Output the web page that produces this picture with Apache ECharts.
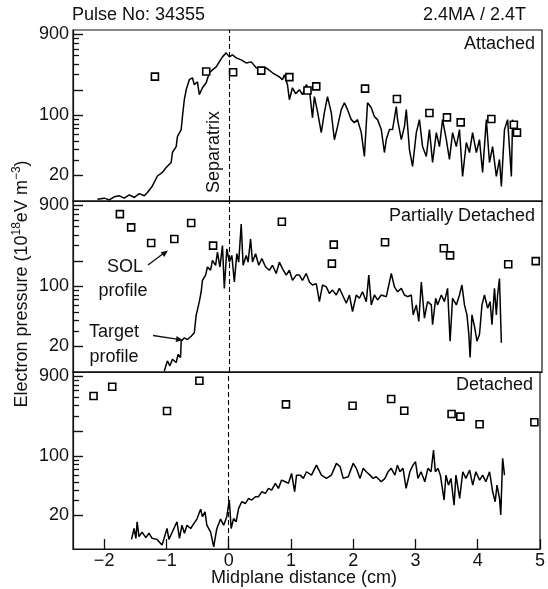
<!DOCTYPE html>
<html><head><meta charset="utf-8">
<script src="https://cdn.jsdelivr.net/npm/echarts@6/dist/echarts.min.js"></script>
<style>html,body{margin:0;padding:0;background:#fff}#c{width:548px;height:589px}</style>
</head><body><div id="c"></div>
<script>
const xTicks = [-2, -1, 0, 1, 2, 3, 4, 5];
const yLabelTicks = [20, 100, 900];
const yMajorTicks = [20, 100, 200, 900];
const yMinorTicks = [30, 40, 50, 60, 70, 80, 90, 300, 400, 500, 600, 700, 800];
const panelNames = ['Attached', 'Partially Detached', 'Detached'];
const panelMin = [10, 10, 8];
const panelMax = [1000, 1000, 1000];

// SOL profile (squares)
const attachedSOL = [[-1.19,285],[-0.37,327],[0.06,321],[0.51,335],[0.96,281],[1.25,196],[1.39,219],[2.17,206],[2.68,156],[3.2,107],[3.48,95],[3.7,83],[4.19,91],[4.55,78],[4.6,63]];
const partialSOL = [[-1.75,702],[-1.57,491],[-1.25,323],[-0.88,360],[-0.61,552],[-0.26,301],[0.84,572],[1.64,185],[1.67,309],[2.49,329],[3.43,280],[3.53,231],[4.46,182],[4.9,198]];
const detachedSOL = [[-2.17,520],[-1.87,670],[-0.99,345],[-0.47,789],[0.92,414],[1.99,399],[2.61,478],[2.82,348],[3.58,318],[3.72,296],[4.03,240],[4.91,254]];

// Target profile (line)
const attachedTarget = [[-2.11,10.5],[-2.0,10.8],[-1.92,10.3],[-1.84,11.2],[-1.76,11.5],[-1.68,10.8],[-1.6,11.8],[-1.52,11.0],[-1.44,12.2],[-1.36,11.5],[-1.31,12.6],[-1.23,15.0],[-1.15,19.6],[-1.07,21.6],[-1.01,24.7],[-0.93,28.2],[-0.91,36.9],[-0.85,43.3],[-0.83,56.7],[-0.77,68.4],[-0.75,97],[-0.72,153],[-0.69,200],[-0.64,262],[-0.59,276],[-0.56,229],[-0.51,248],[-0.48,175],[-0.43,211],[-0.37,242],[-0.32,316],[-0.27,342],[-0.21,370],[-0.16,424],[-0.11,485],[-0.05,540],[0,485],[0.05,512],[0.11,472],[0.19,447],[0.27,412],[0.35,424],[0.43,361],[0.51,342],[0.59,361],[0.69,316],[0.8,283],[0.85,262],[0.88,300],[0.93,229],[0.96,153],[1.01,211],[1.06,180],[1.12,200],[1.17,175],[1.23,229],[1.28,200],[1.33,94],[1.36,166],[1.41,111],[1.47,63],[1.52,108],[1.57,166],[1.63,108],[1.68,52],[1.73,74],[1.79,117],[1.84,141],[1.89,117],[1.95,89.5],[2.0,82.6],[2.05,89.5],[2.11,63],[2.16,33.2],[2.21,141],[2.27,123],[2.32,97],[2.37,89.5],[2.43,68.4],[2.48,36.9],[2.51,52.3],[2.56,68.4],[2.61,68.4],[2.67,127],[2.69,89.5],[2.75,52.3],[2.8,74.2],[2.83,117],[2.88,40],[2.93,25.4],[2.99,63],[3.04,89.5],[3.09,43.3],[3.15,33.2],[3.2,68.4],[3.25,28.2],[3.31,63],[3.36,43.3],[3.41,89.5],[3.47,52.3],[3.52,30.6],[3.57,63],[3.63,43.3],[3.68,68.4],[3.73,19.4],[3.79,48.3],[3.84,36.9],[3.89,63],[3.95,36.9],[4.0,52.3],[4.05,21.6],[4.11,89.5],[4.16,28.2],[4.21,43.3],[4.27,19.4],[4.32,30.6],[4.35,14.8],[4.4,68.4],[4.45,89.5],[4.51,19.4],[4.53,89.5]];
const partialTarget = [[-1.04,10.3],[-0.99,13.5],[-0.95,11.8],[-0.91,14.1],[-0.85,12.9],[-0.82,16.1],[-0.78,14.8],[-0.77,22.9],[-0.72,25.1],[-0.67,24.0],[-0.61,26.2],[-0.56,28.7],[-0.53,46.6],[-0.51,53.3],[-0.48,66.5],[-0.45,86.8],[-0.43,118],[-0.38,136],[-0.35,169],[-0.3,155],[-0.27,202],[-0.22,177],[-0.19,252],[-0.15,169],[-0.11,301],[-0.08,95],[-0.04,276],[0,193],[0.04,231],[0.08,113],[0.12,242],[0.15,193],[0.19,538],[0.22,177],[0.27,231],[0.3,193],[0.34,360],[0.37,193],[0.42,242],[0.47,177],[0.52,212],[0.58,169],[0.64,155],[0.69,177],[0.75,142],[0.8,193],[0.85,162],[0.91,136],[0.96,155],[1.01,118],[1.07,136],[1.12,136],[1.17,118],[1.23,142],[1.28,113],[1.33,104],[1.39,108],[1.44,66.5],[1.49,104],[1.55,99],[1.6,83],[1.65,90.8],[1.71,79.5],[1.76,95],[1.81,79.5],[1.87,63.8],[1.92,79.5],[1.97,51],[2.03,79.5],[2.08,72.8],[2.13,86.8],[2.19,66.5],[2.23,136],[2.27,60.9],[2.32,79.5],[2.37,69.6],[2.43,79.5],[2.51,76],[2.59,142],[2.64,99],[2.69,86.8],[2.75,95],[2.8,79.5],[2.85,76],[2.91,79.5],[2.94,46.6],[2.99,60.9],[3.03,39],[3.07,113],[3.12,42.7],[3.17,66.5],[3.23,60.9],[3.25,35.7],[3.3,72.8],[3.33,60.9],[3.39,79.5],[3.44,66.5],[3.49,95],[3.53,22.9],[3.57,72.8],[3.63,60.9],[3.68,79.5],[3.72,104],[3.76,60.9],[3.8,46.6],[3.83,27.4],[3.85,14.8],[3.88,46.6],[3.92,34.2],[3.96,22.9],[4.0,27.4],[4.04,60.9],[4.08,79.5],[4.13,55.8],[4.17,66.5],[4.2,35.7],[4.24,95],[4.27,46.6],[4.29,79.5],[4.32,124],[4.35,22]];
const detachedTarget = [[-1.56,10.4],[-1.52,14],[-1.49,10.7],[-1.47,16.8],[-1.44,11.2],[-1.39,12.7],[-1.33,10.9],[-1.28,12.3],[-1.23,10.7],[-1.15,10.4],[-1.07,8.9],[-0.99,14],[-0.96,10.4],[-0.83,16.8],[-0.79,10.7],[-0.75,15.3],[-0.71,12.3],[-0.67,15.3],[-0.61,14],[-0.56,16],[-0.51,18.1],[-0.45,23.7],[-0.42,19.3],[-0.38,22],[-0.35,15.3],[-0.29,12.7],[-0.24,8.5],[-0.19,14],[-0.13,18.1],[-0.08,15.3],[-0.03,19.3],[0.01,30.4],[0.04,14],[0.08,18.4],[0.12,16.8],[0.16,24.2],[0.21,29],[0.27,27.7],[0.32,31.8],[0.37,30.4],[0.43,33.3],[0.48,33.3],[0.53,38.1],[0.59,36.5],[0.64,41.8],[0.69,39.9],[0.75,47.9],[0.8,41.8],[0.85,52.4],[0.91,50.1],[0.96,47.9],[1.01,62.9],[1.06,38.1],[1.09,60],[1.15,60],[1.2,54.9],[1.25,65.8],[1.33,60],[1.41,78.9],[1.49,60],[1.57,54.9],[1.65,60],[1.73,82.7],[1.79,75.4],[1.84,54.9],[1.92,57.4],[2.0,82.7],[2.05,72.2],[2.11,54.9],[2.16,72.2],[2.21,65.8],[2.27,60],[2.32,54.9],[2.37,57.4],[2.45,50.1],[2.51,54.9],[2.56,65.8],[2.61,72.2],[2.67,60],[2.71,78.9],[2.75,65.8],[2.8,72.2],[2.85,41.8],[2.91,65.8],[2.96,78.9],[3.0,86.5],[3.04,54.9],[3.09,65.8],[3.15,50.1],[3.2,72.2],[3.25,65.8],[3.29,119],[3.32,65.8],[3.36,72.2],[3.4,60],[3.46,30.4],[3.49,60],[3.53,45.7],[3.57,54.9],[3.62,26.4],[3.65,60],[3.71,31.8],[3.76,65.8],[3.81,54.9],[3.87,68.9],[3.92,45.7],[3.97,65.8],[4.03,52.4],[4.08,60],[4.13,50.1],[4.19,65.8],[4.24,38.1],[4.28,29],[4.31,45.7],[4.35,31.8],[4.37,20.2],[4.4,94.8],[4.43,60]];

const solSets = [attachedSOL, partialSOL, detachedSOL];
const targetSets = [attachedTarget, partialTarget, detachedTarget];

const F = '"Liberation Sans", Arial, Helvetica, sans-serif';
const black = '#111';
const gridTops = [30, 201, 372];
const gridHeights = [171, 171, 177];

const grids = [], xAxes = [], yAxes = [], series = [];
for (let i = 0; i < 3; i++) {
  grids.push({left: 73, right: 6, top: gridTops[i], height: gridHeights[i], show: true,
    borderColor: black, borderWidth: 1.2, backgroundColor: 'transparent'});
  xAxes.push({type: 'value', gridIndex: i, min: -2.5, max: 5,
    axisLine: {show: true, onZero: false, lineStyle: {color: black, width: 1.2}},
    axisTick: {show: i === 2, inside: true, length: 10, customValues: xTicks.slice(), lineStyle: {color: black, width: 1.3}},
    axisLabel: {show: i === 2, customValues: xTicks.slice(), fontSize: 18, fontFamily: F, color: black, margin: 3,
      formatter: v => String(v).replace('-', '\u2212')},
    splitLine: {show: false}});
}
for (let i = 0; i < 3; i++) {
  yAxes.push({type: 'log', gridIndex: i, min: panelMin[i], max: panelMax[i], position: 'left',
    axisLine: {show: true, onZero: false, lineStyle: {color: black, width: 1.2}},
    axisTick: {show: true, inside: true, length: 10, customValues: yMajorTicks.slice(), lineStyle: {color: black, width: 1.4}},
    axisLabel: {customValues: yLabelTicks.slice(), fontSize: 18, fontFamily: F, color: black, margin: 4},
    splitLine: {show: false}});
}
for (let i = 0; i < 3; i++) {
  yAxes.push({type: 'log', gridIndex: i, min: panelMin[i], max: panelMax[i], position: 'left',
    axisLine: {show: false, onZero: false},
    axisTick: {show: true, inside: true, length: 6, customValues: yMinorTicks.slice(), lineStyle: {color: black, width: 1.3}},
    axisLabel: {show: false},
    splitLine: {show: false}});
}
for (let i = 0; i < 3; i++) {
  series.push({type: 'line', xAxisIndex: i, yAxisIndex: i, data: targetSets[i], showSymbol: false,
    symbol: 'none', clip: true, z: 2,
    lineStyle: {color: '#000', width: 1.5},
    markLine: {silent: true, symbol: ['none', 'none'], label: {show: false},
      lineStyle: {color: '#000', type: [5, 3], width: 1.1}, data: [{xAxis: 0}]}});
  series.push({type: 'scatter', xAxisIndex: i, yAxisIndex: i, data: solSets[i], symbol: 'rect',
    symbolSize: 7, z: 3, clip: false,
    itemStyle: {color: '#fff', borderColor: '#000', borderWidth: 1.6, opacity: 1}});
}

const txt = (x, y, text, align, extra) => Object.assign({type: 'text', x: x, y: y, z: 10,
  style: {text: text, fontSize: 18, fontFamily: F, fill: black, align: align || 'center', verticalAlign: 'middle'}}, extra || {});

const graphics = [
  txt(72, 15, 'Pulse No: 34355', 'left'),
  txt(526, 15, '2.4MA / 2.4T', 'right'),
  txt(535, 44, panelNames[0], 'right'),
  txt(535, 216, panelNames[1], 'right'),
  txt(533, 385, panelNames[2], 'right'),
  txt(214, 152, 'Separatrix', 'center', {rotation: Math.PI / 2}),
  txt(125, 267, 'SOL', 'center'),
  txt(123, 291, 'profile', 'center'),
  txt(114, 332, 'Target', 'center'),
  txt(114, 357, 'profile', 'center'),
  txt(304, 578, 'Midplane distance (cm)', 'center'),
  {type: 'text', x: 22, y: 284, rotation: Math.PI / 2, z: 10,
    style: {text: '{a|Electron pressure (10}{s|18}{a|eV m}{s|\u22123}{a|)}', align: 'center', verticalAlign: 'middle',
      fill: black, fontFamily: F, fontSize: 18,
      rich: {a: {fontSize: 18, fontFamily: F, fill: black, lineHeight: 22, verticalAlign: 'middle'},
             s: {fontSize: 12, fontFamily: F, fill: black, lineHeight: 12, verticalAlign: 'top'}}}},
  {type: 'line', z: 10, shape: {x1: 148, y1: 265, x2: 164, y2: 253}, style: {stroke: black, lineWidth: 1.3}},
  {type: 'polygon', z: 10, shape: {points: [[168, 250.5], [164.2, 257.1], [160.6, 252.3]]}, style: {fill: black}},
  {type: 'line', z: 10, shape: {x1: 153, y1: 335.5, x2: 177, y2: 339.2}, style: {stroke: black, lineWidth: 1.3}},
  {type: 'polygon', z: 10, shape: {points: [[183, 340.2], [175.6, 342.1], [176.6, 336.1]]}, style: {fill: black}}
];

const chart = echarts.init(document.getElementById('c'), null, {renderer: 'canvas'});
chart.setOption({
  animation: false,
  backgroundColor: '#fff',
  textStyle: {fontFamily: F},
  grid: grids, xAxis: xAxes, yAxis: yAxes, series: series, graphic: graphics
});
</script></body></html>
